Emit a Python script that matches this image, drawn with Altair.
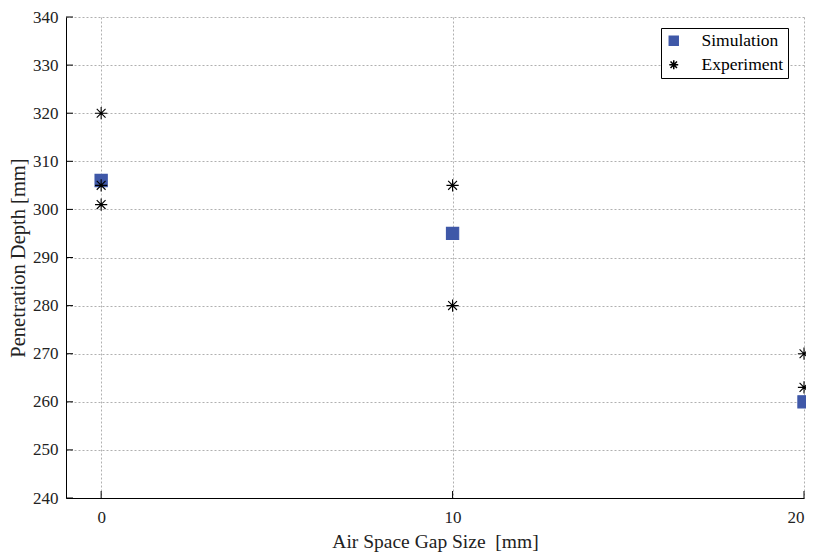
import altair as alt
import pandas as pd

sim_x = [0, 10, 20]
sim_y = [306, 295, 260]
exp_x = [0, 0, 0, 10, 10, 20, 20]
exp_y = [320, 305, 301, 305, 280, 270, 263]
x_ticks = [0, 10, 20]
y_ticks = [240, 250, 260, 270, 280, 290, 300, 310, 320, 330, 340]

series = ["Simulation", "Experiment"]
df = pd.DataFrame(
    {"gap": sim_x + exp_x,
     "depth": sim_y + exp_y,
     "series": ["Simulation"] * len(sim_x) + ["Experiment"] * len(exp_x)}
)

W, H = 738, 481
BLUE = "#3F58A8"
ASTER = "M-1,0L1,0M0,-1L0,1M-0.72,-0.72L0.72,0.72M-0.72,0.72L0.72,-0.72"
FONT = "Liberation Serif"

xs = alt.Scale(domain=[-1, 20], nice=False, zero=False)
ys = alt.Scale(domain=[240, 340], nice=False, zero=False)

points = alt.Chart(df).mark_point(size=150, strokeWidth=1.1, opacity=1).encode(
    x=alt.X("gap:Q", scale=xs,
            axis=alt.Axis(values=x_ticks, title="Air Space Gap Size\u00a0 [mm]",
                          tickSize=0, labelPadding=11, titlePadding=7,
                          titleFontSize=19.5)),
    y=alt.Y("depth:Q", scale=ys,
            axis=alt.Axis(values=y_ticks, title="Penetration Depth [mm]",
                          tickSize=0, labelPadding=8, titlePadding=4,
                          titleFontSize=20.5)),
    shape=alt.Shape("series:N", scale=alt.Scale(domain=series, range=["square", ASTER]),
                    legend=alt.Legend(title=None, orient="none", legendX=595, legendY=11,
                                      strokeColor="black", fillColor="white",
                                      padding=4, rowPadding=5, labelFontSize=17.5,
                                      labelFont=FONT, labelColor="black",
                                      symbolSize=80, labelOffset=19, cornerRadius=0)),
    fill=alt.Fill("series:N", scale=alt.Scale(domain=series, range=[BLUE, "transparent"]),
                  legend=None),
    stroke=alt.Stroke("series:N", scale=alt.Scale(domain=series, range=[BLUE, "black"]),
                      legend=None),
)

xtick_df = pd.DataFrame({"v": x_ticks})
ytick_df = pd.DataFrame({"v": y_ticks})
xt = alt.Chart(xtick_df).mark_rule(color="black", strokeWidth=1).encode(
    x=alt.X("v:Q", scale=xs), y=alt.value(H), y2=alt.value(H - 7))
yt = alt.Chart(ytick_df).mark_rule(color="black", strokeWidth=1).encode(
    y=alt.Y("v:Q", scale=ys), x=alt.value(0), x2=alt.value(7))

chart = alt.layer(xt, yt, points).properties(
    width=W, height=H,
    background="white",
    autosize=alt.AutoSizeParams(type="none"),
    padding={"left": 58, "top": 9, "right": 2, "bottom": 55},
).configure_view(stroke=None).configure_axis(
    domainColor="black", domainWidth=1,
    gridColor="#b0b0b0", gridDash=[2, 2], gridWidth=1,
    labelFont=FONT, labelFontSize=17, labelColor="#222222",
    titleFont=FONT, titleFontWeight="normal", titleColor="#222222",
)

chart.save("out.html", embed_options={"renderer": "svg", "actions": False})
